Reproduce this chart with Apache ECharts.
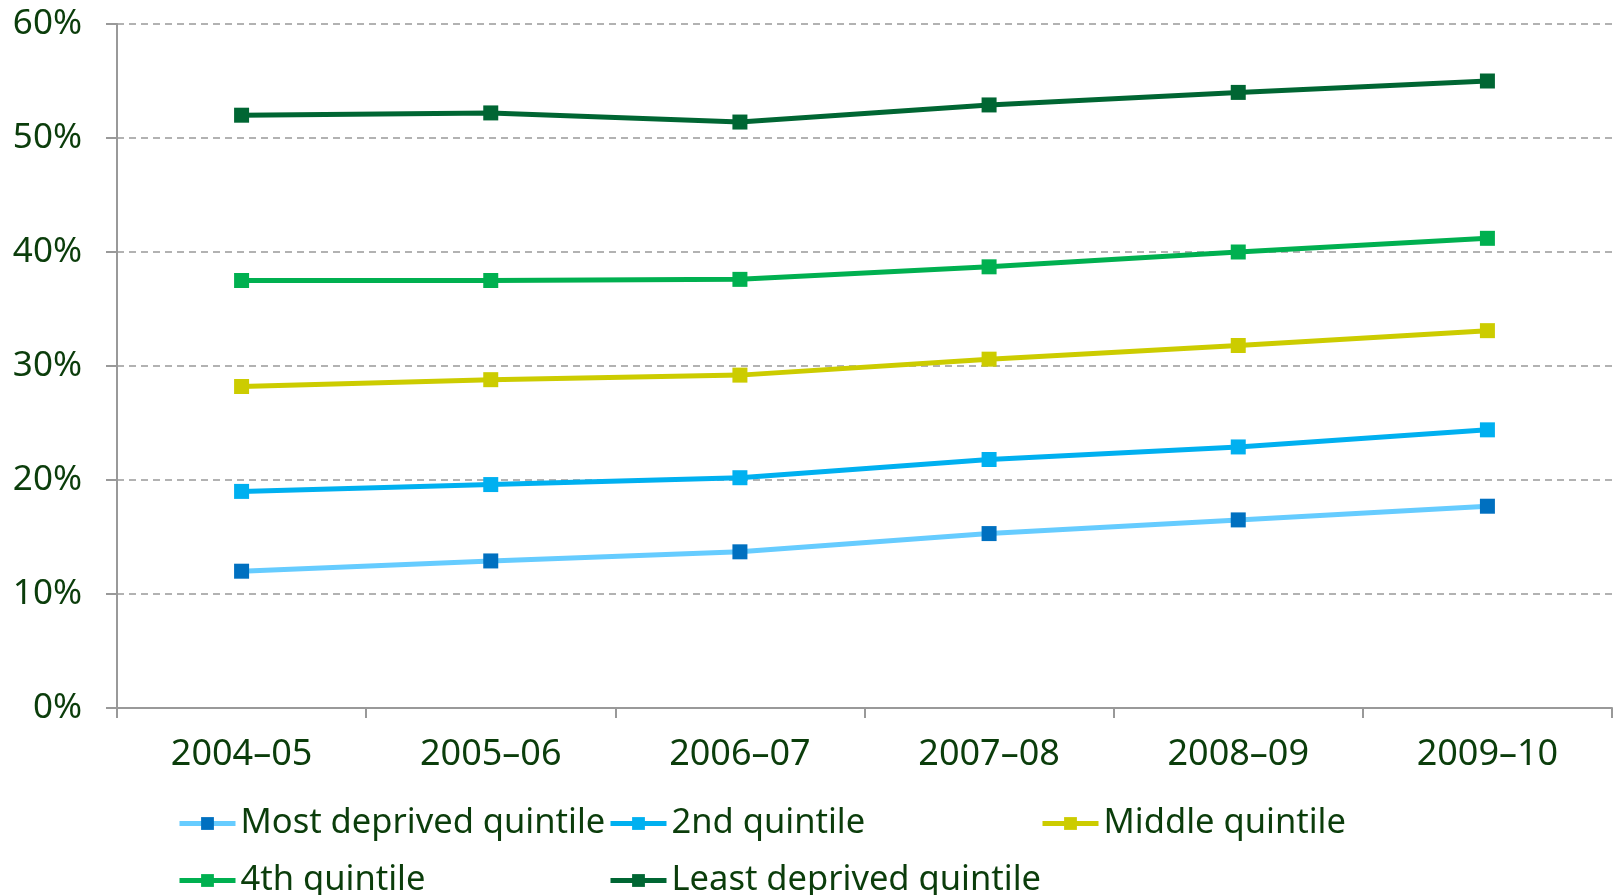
<!DOCTYPE html>
<html><head><meta charset="utf-8">
<script src="https://cdn.jsdelivr.net/npm/echarts@6/dist/echarts.min.js"></script>
<style>html,body{margin:0;padding:0;background:#fff}#c{width:1614px;height:895px}</style>
</head><body><div id="c"></div>
<script>
const categories = ['2004–05','2005–06','2006–07','2007–08','2008–09','2009–10'];
const seriesNames = ['Most deprived quintile','2nd quintile','Middle quintile','4th quintile','Least deprived quintile'];
const mostDeprived = [12.0, 12.9, 13.7, 15.3, 16.5, 17.7];
const second = [19.0, 19.6, 20.2, 21.8, 22.9, 24.4];
const middle = [28.2, 28.8, 29.2, 30.6, 31.8, 33.1];
const fourth = [37.5, 37.5, 37.6, 38.7, 40.0, 41.2];
const leastDeprived = [52.0, 52.2, 51.4, 52.9, 54.0, 55.0];
const yTicks = [0, 10, 20, 30, 40, 50, 60];

const values = [mostDeprived, second, middle, fourth, leastDeprived];
const lineColors = ['#66CCFF','#00B0F0','#CCCC00','#00B050','#006633'];
const markerColors = ['#0070C0','#00B0F0','#CCCC00','#00B050','#006633'];
const textColor = '#0B3D0B';
const legendPos = [[177,806],[608,806],[1040,806],[177,863],[608,863]];

const chart = echarts.init(document.getElementById('c'));
chart.setOption({
  animation:false,
  grid:{left:117,right:2,top:24,bottom:187,containLabel:false},
  legend: seriesNames.map((n,i)=>({
    data:[n], left:legendPos[i][0], top:legendPos[i][1],
    itemWidth:56, itemHeight:16, padding:0,
    lineStyle:{width:5},
    textStyle:{fontFamily:'"Noto Sans",sans-serif',fontSize:34.5,color:textColor}
  })),
  xAxis:{type:'category',data:categories,boundaryGap:true,
    axisLine:{lineStyle:{color:'#999',width:2}},
    axisTick:{show:true,length:10,lineStyle:{color:'#999',width:2}},
    axisLabel:{color:textColor,fontSize:36,fontFamily:'"Noto Sans",sans-serif',margin:29}
  },
  yAxis:{type:'value',min:yTicks[0],max:yTicks[yTicks.length-1],interval:10,
    axisLine:{show:true,lineStyle:{color:'#999',width:2}},
    axisTick:{show:true,length:11,lineStyle:{color:'#999',width:2}},
    splitLine:{show:true,lineStyle:{color:'#999',type:[7,5],width:1.5}},
    axisLabel:{color:textColor,fontSize:35,fontFamily:'"Noto Sans",sans-serif',margin:35,formatter:v=>v+'%'}
  },
  series: values.map((d,i)=>({
    name:seriesNames[i],type:'line',data:d,
    symbol:'rect',symbolSize:15,
    lineStyle:{color:lineColors[i],width:5},
    itemStyle:{color:markerColors[i]},
    z:2
  }))
});
</script></body></html>
